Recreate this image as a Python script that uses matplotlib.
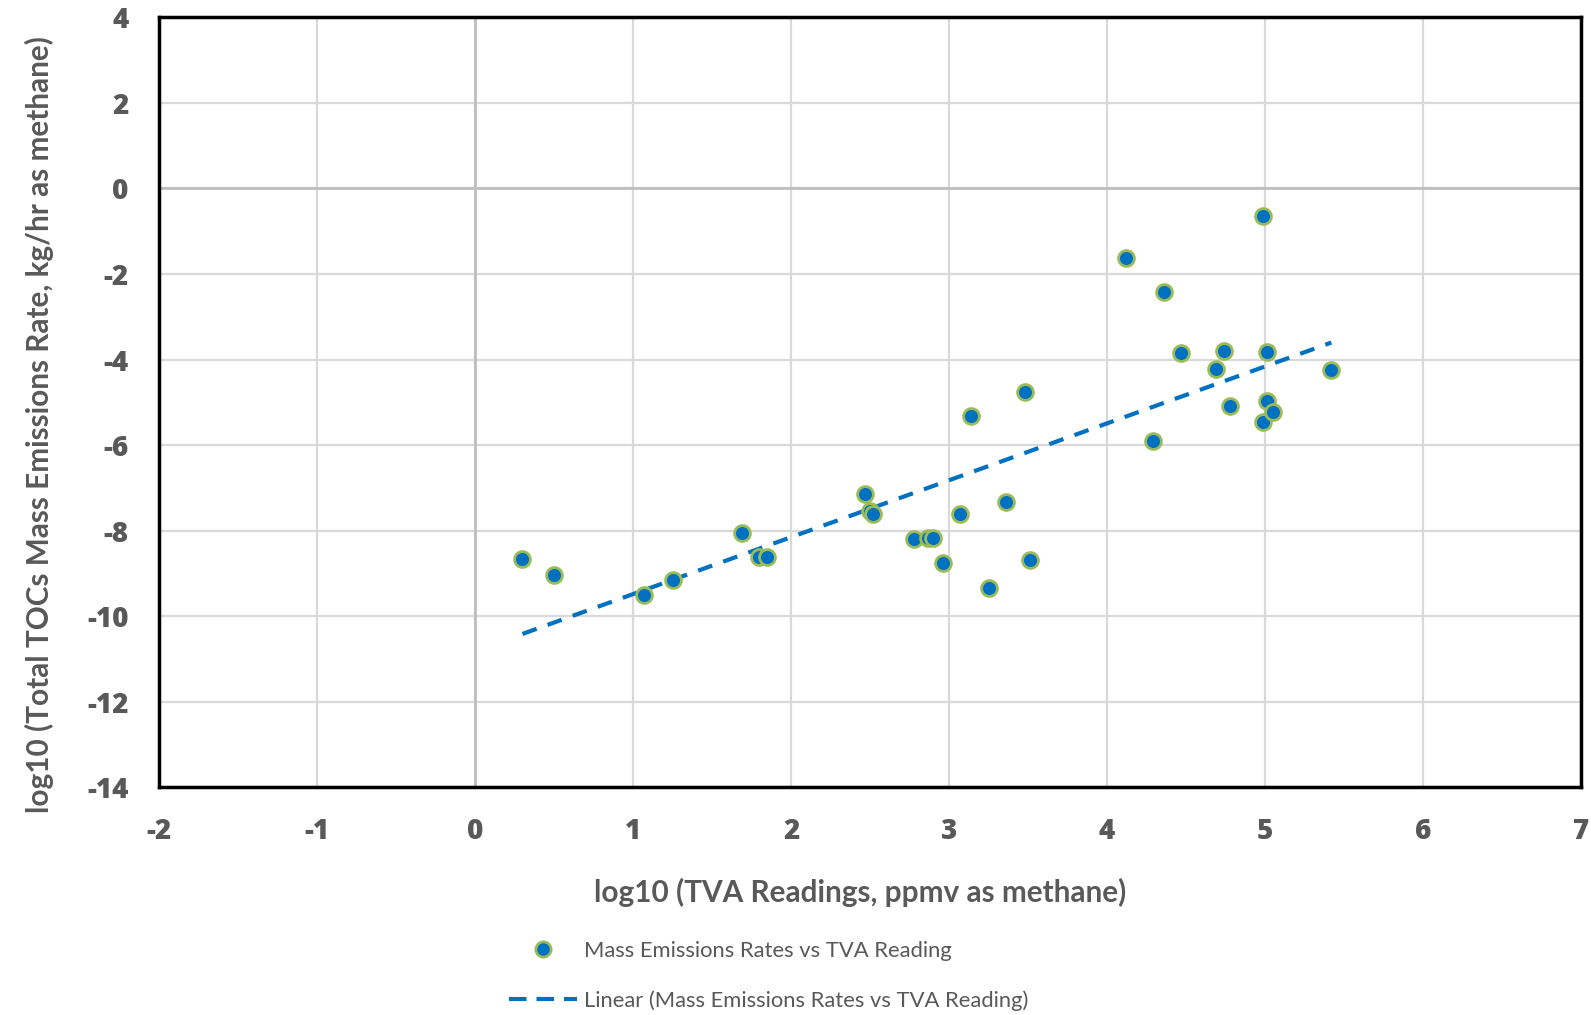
import matplotlib
matplotlib.use("Agg")
import matplotlib.pyplot as plt
import numpy as np
from matplotlib.lines import Line2D

plt.rcParams["axes.unicode_minus"] = False

# Data
tva_log = [0.30, 0.50, 1.07, 1.25, 1.69, 1.80, 1.85, 2.47, 2.50, 2.52,
           2.78, 2.87, 2.90, 2.96, 3.07, 3.14, 3.25, 3.36, 3.48, 3.51,
           4.12, 4.29, 4.36, 4.47, 4.69, 4.74, 4.78, 4.99, 4.99, 5.01,
           5.01, 5.05, 5.42]
mass_log = [-8.67, -9.04, -9.50, -9.16, -8.05, -8.62, -8.62, -7.15, -7.55, -7.62,
            -8.19, -8.17, -8.17, -8.76, -7.62, -5.32, -9.33, -7.33, -4.75, -8.69,
            -1.62, -5.91, -2.43, -3.85, -4.23, -3.80, -5.08, -0.65, -5.46, -4.96,
            -3.83, -5.22, -4.25]

x_ticks = list(range(-2, 8))
y_ticks = list(range(-14, 5, 2))

series_label = "Mass Emissions Rates vs TVA Reading"
trend_label = "Linear (Mass Emissions Rates vs TVA Reading)"
x_label = "log10 (TVA Readings, ppmv as methane)"
y_label = "log10 (Total TOCs Mass Emissions Rate, kg/hr as methane)"

blue = "#0070C0"
green = "#9BBB59"
tick_col = "#595959"

fig = plt.figure(figsize=(15.91, 10.15), dpi=100)
ax = fig.add_axes([0.100, 0.2243, 0.8937, 0.7587])

ax.set_xlim(-2, 7)
ax.set_ylim(-14, 4)
ax.set_xticks(x_ticks)
ax.set_yticks(y_ticks)
ax.set_xticklabels([str(v) for v in x_ticks], family="Open Sans",
                   fontweight="heavy", fontsize=20, color=tick_col)
ax.set_yticklabels([str(v) for v in y_ticks], family="Open Sans",
                   fontweight="heavy", fontsize=20, color=tick_col)
ax.grid(True, color="#D9D9D9", linewidth=1.6)
ax.set_axisbelow(True)
ax.axhline(0, color="#BFBFBF", linewidth=2, zorder=1)
ax.axvline(0, color="#BFBFBF", linewidth=2, zorder=1)

for s in ax.spines.values():
    s.set_linewidth(2.5)
    s.set_color("black")

ax.tick_params(length=0)
ax.tick_params(axis="y", pad=22)
ax.tick_params(axis="x", pad=21)

ax.scatter(tva_log, mass_log, s=130, facecolor=blue, edgecolor=green,
           linewidth=2, zorder=3)

# linear trendline
xa = np.array(tva_log)
ya = np.array(mass_log)
m, b = np.polyfit(xa, ya, 1)
xt = np.array([xa.min(), xa.max()])
ax.plot(xt, m * xt + b, color=blue, linestyle=(0, (3.6, 2.8)), linewidth=3, zorder=2)

ax.set_xlabel(x_label, fontsize=21.4, fontweight="bold", color=tick_col,
              family="Lato", labelpad=22)
ax.set_ylabel(y_label, fontsize=21.4, fontweight="bold", color=tick_col,
              family="Lato", labelpad=24)
ax.xaxis.set_label_coords(0.493, -0.118)
ax.yaxis.label.set_y(0.471)

handles = [
    Line2D([], [], marker="o", linestyle="none", markersize=11,
           markerfacecolor=blue, markeredgecolor=green, markeredgewidth=2),
    Line2D([], [], color=blue, linestyle=(0, (4.2, 2.4)), linewidth=3),
]
leg = fig.legend(handles, [series_label, trend_label], loc="upper left",
                 bbox_to_anchor=(0.320, 0.073), frameon=False,
                 prop={"family": "Lato", "size": 15.8}, labelcolor=tick_col,
                 handlelength=3.1, handletextpad=0.3, labelspacing=1.35,
                 borderpad=0, borderaxespad=0)

fig.savefig("out.png", dpi=100)
